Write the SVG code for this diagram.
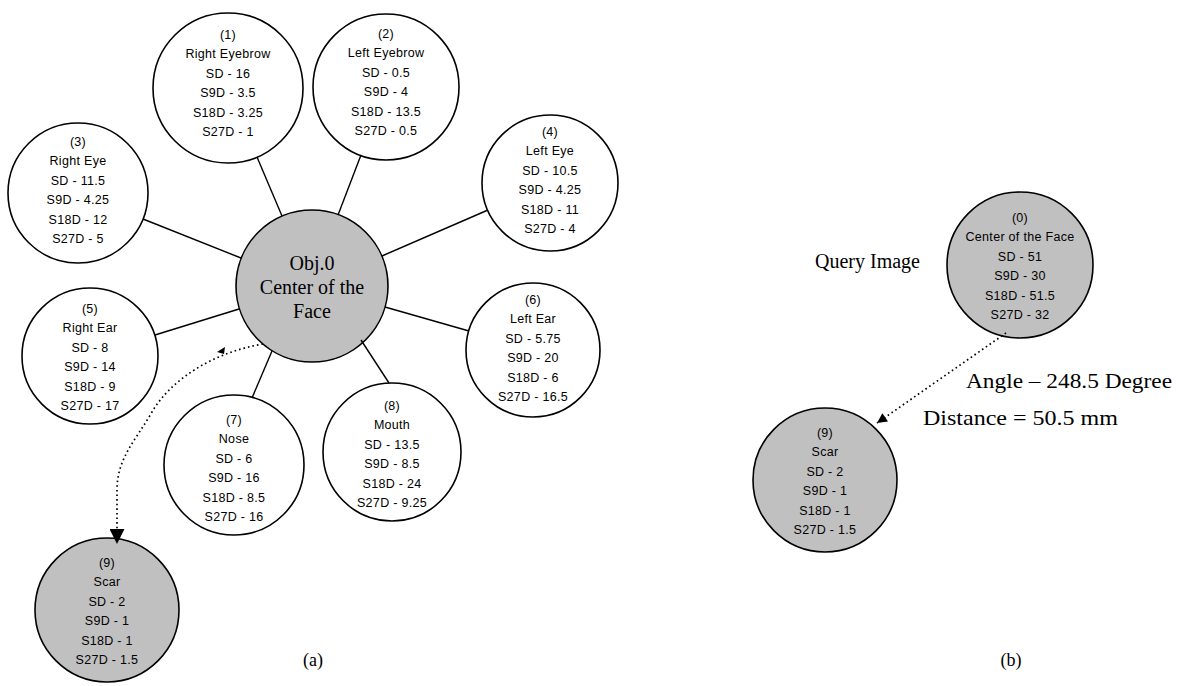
<svg xmlns="http://www.w3.org/2000/svg" width="1182" height="686" viewBox="0 0 1182 686">
<defs>
<style>
.n{fill:#fff;stroke:#000;stroke-width:1.6}
.g{fill:#c0c0c0;stroke:#000;stroke-width:1.6}
.t{font-family:"Liberation Sans","DejaVu Sans",sans-serif;font-size:12.5px;letter-spacing:0.3px;text-anchor:middle;fill:#000}
.s{font-family:"Liberation Serif","Times New Roman",serif;fill:#000}
.c{stroke:#000;stroke-width:1.4;fill:none}
.d{stroke:#000;stroke-width:1.7;fill:none;stroke-dasharray:1.6 3}
</style>
<marker id="ah" viewBox="0 0 10 10" refX="10" refY="5" markerWidth="15" markerHeight="10" orient="auto" markerUnits="userSpaceOnUse">
<path d="M0,0 L10,5 L0,10 z" fill="#000"/>
</marker>
<marker id="ah2" viewBox="0 0 10 10" refX="10" refY="5" markerWidth="19" markerHeight="15" orient="auto" markerUnits="userSpaceOnUse">
<path d="M0,0 L10,5 L0,10 z" fill="#000"/>
</marker>
</defs>
<rect width="1182" height="686" fill="#fff"/>
<g id="center">
<circle class="g" cx="312" cy="286" r="76"/>
<text class="s" font-size="20" text-anchor="middle" x="312" y="270">Obj.0</text>
<text class="s" font-size="20" text-anchor="middle" x="312" y="294">Center of the</text>
<text class="s" font-size="20" text-anchor="middle" x="312" y="318">Face</text>
</g>
<g id="n1">
<circle class="n" cx="228" cy="88" r="75"/>
<text class="t" x="228" y="39">(1)</text><text class="t" x="228" y="58">Right Eyebrow</text><text class="t" x="228" y="78">SD - 16</text><text class="t" x="228" y="97">S9D - 3.5</text><text class="t" x="228" y="117">S18D - 3.25</text><text class="t" x="228" y="136">S27D - 1</text>
</g>
<g id="n2">
<circle class="n" cx="386" cy="87" r="73"/>
<text class="t" x="386" y="38">(2)</text><text class="t" x="386" y="57">Left Eyebrow</text><text class="t" x="386" y="77">SD - 0.5</text><text class="t" x="386" y="96">S9D - 4</text><text class="t" x="386" y="116">S18D - 13.5</text><text class="t" x="386" y="135">S27D - 0.5</text>
</g>
<g id="n3">
<circle class="n" cx="78" cy="193" r="70"/>
<text class="t" x="78" y="146">(3)</text><text class="t" x="78" y="165">Right Eye</text><text class="t" x="78" y="185">SD - 11.5</text><text class="t" x="78" y="204">S9D - 4.25</text><text class="t" x="78" y="224">S18D - 12</text><text class="t" x="78" y="243">S27D - 5</text>
</g>
<g id="n4">
<circle class="n" cx="550" cy="183" r="68"/>
<text class="t" x="550" y="136">(4)</text><text class="t" x="550" y="155">Left Eye</text><text class="t" x="550" y="175">SD - 10.5</text><text class="t" x="550" y="194">S9D - 4.25</text><text class="t" x="550" y="214">S18D - 11</text><text class="t" x="550" y="233">S27D - 4</text>
</g>
<g id="n5">
<circle class="n" cx="90" cy="356" r="68"/>
<text class="t" x="90" y="313">(5)</text><text class="t" x="90" y="332">Right Ear</text><text class="t" x="90" y="352">SD - 8</text><text class="t" x="90" y="371">S9D - 14</text><text class="t" x="90" y="391">S18D - 9</text><text class="t" x="90" y="410">S27D - 17</text>
</g>
<g id="n6">
<circle class="n" cx="533" cy="350" r="67"/>
<text class="t" x="533" y="304">(6)</text><text class="t" x="533" y="323">Left Ear</text><text class="t" x="533" y="343">SD - 5.75</text><text class="t" x="533" y="362">S9D - 20</text><text class="t" x="533" y="382">S18D - 6</text><text class="t" x="533" y="401">S27D - 16.5</text>
</g>
<g id="n7">
<circle class="n" cx="234" cy="465" r="70"/>
<text class="t" x="234" y="424">(7)</text><text class="t" x="234" y="443">Nose</text><text class="t" x="234" y="463">SD - 6</text><text class="t" x="234" y="482">S9D - 16</text><text class="t" x="234" y="502">S18D - 8.5</text><text class="t" x="234" y="521">S27D - 16</text>
</g>
<g id="n8">
<circle class="n" cx="392" cy="452" r="69"/>
<text class="t" x="392" y="410">(8)</text><text class="t" x="392" y="429">Mouth</text><text class="t" x="392" y="449">SD - 13.5</text><text class="t" x="392" y="468">S9D - 8.5</text><text class="t" x="392" y="488">S18D - 24</text><text class="t" x="392" y="507">S27D - 9.25</text>
</g>
<g id="n9a">
<circle class="g" cx="107" cy="610" r="72"/>
<text class="t" x="107" y="567">(9)</text><text class="t" x="107" y="586">Scar</text><text class="t" x="107" y="606">SD - 2</text><text class="t" x="107" y="625">S9D - 1</text><text class="t" x="107" y="645">S18D - 1</text><text class="t" x="107" y="664">S27D - 1.5</text>
</g>
<g id="n0b">
<circle class="g" cx="1020" cy="265" r="73"/>
<text class="t" x="1020" y="222">(0)</text><text class="t" x="1020" y="241">Center of the Face</text><text class="t" x="1020" y="261">SD - 51</text><text class="t" x="1020" y="280">S9D - 30</text><text class="t" x="1020" y="300">S18D - 51.5</text><text class="t" x="1020" y="319">S27D - 32</text>
</g>
<g id="n9b">
<circle class="g" cx="825" cy="480" r="72"/>
<text class="t" x="825" y="437">(9)</text><text class="t" x="825" y="456">Scar</text><text class="t" x="825" y="476">SD - 2</text><text class="t" x="825" y="495">S9D - 1</text><text class="t" x="825" y="515">S18D - 1</text><text class="t" x="825" y="534">S27D - 1.5</text>
</g>
<g id="connectors">
<line class="c" x1="282" y1="216" x2="257" y2="157"/>
<line class="c" x1="338" y1="215" x2="361" y2="155"/>
<line class="c" x1="241" y1="258" x2="143" y2="219"/>
<line class="c" x1="382" y1="256" x2="488" y2="210"/>
<line class="c" x1="239" y1="309" x2="155" y2="335"/>
<line class="c" x1="385" y1="307" x2="469" y2="331"/>
<line class="c" x1="272" y1="351" x2="252" y2="398"/>
<line class="c" x1="361" y1="340" x2="389" y2="383"/>
<path class="d" d="M263,344 C215,352 172,378 152,412 C136,440 117,458 117,490 L117,544" marker-end="url(#ah2)"/>
<path d="M217,352 L225,347 L224,354 z" fill="#000"/>
<path class="d" d="M1006,333 L877,423" marker-end="url(#ah)"/>
</g>
<g id="labels">
<text class="s" font-size="20" text-anchor="end" x="920" y="268">Query Image</text>
<text class="s" font-size="22" x="966" y="388" textLength="206" lengthAdjust="spacingAndGlyphs">Angle – 248.5 Degree</text>
<text class="s" font-size="22" x="923" y="425" textLength="195" lengthAdjust="spacingAndGlyphs">Distance = 50.5 mm</text>
<text class="s" font-size="18" text-anchor="middle" x="313" y="666">(a)</text>
<text class="s" font-size="18" text-anchor="middle" x="1011" y="666">(b)</text>
</g>
</svg>
